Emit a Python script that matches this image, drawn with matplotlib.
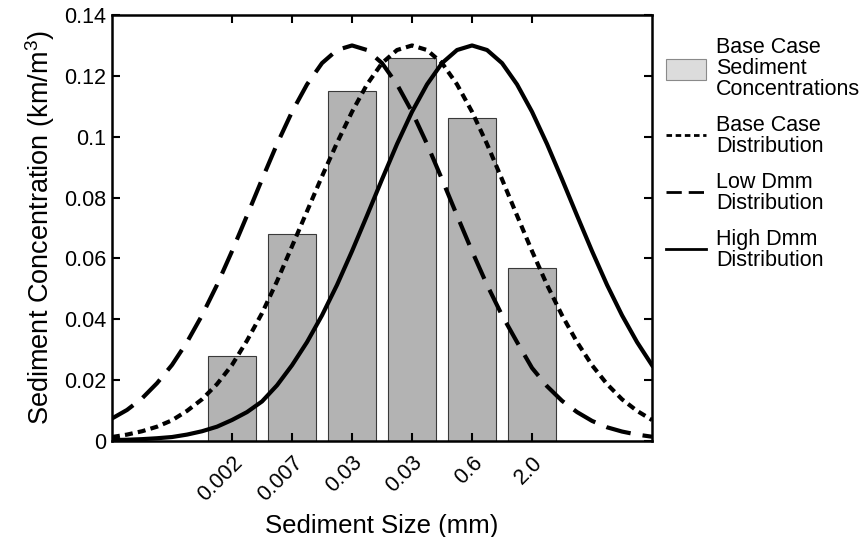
import matplotlib
matplotlib.use("Agg")
import matplotlib.pyplot as plt
from matplotlib.patches import Patch
from matplotlib.lines import Line2D
from matplotlib.ticker import FuncFormatter

plt.rcParams["font.family"] = ["Liberation Sans", "DejaVu Sans"]
plt.rcParams["mathtext.fontset"] = "custom"
plt.rcParams["mathtext.rm"] = "Liberation Sans"
plt.rcParams["mathtext.it"] = "Liberation Sans"

# bar data
size_labels = ["0.002", "0.007", "0.03", "0.03", "0.6", "2.0"]
concentrations = [0.028, 0.068, 0.115, 0.126, 0.106, 0.057]

# curves (x in bar-slot units)
curve_x = [-2.0, -1.75, -1.5, -1.25, -1.0, -0.75, -0.5, -0.25, 0.0, 0.25, 0.5, 0.75,
           1.0, 1.25, 1.5, 1.75, 2.0, 2.25, 2.5, 2.75, 3.0, 3.25, 3.5, 3.75,
           4.0, 4.25, 4.5, 4.75, 5.0, 5.25, 5.5, 5.75, 6.0, 6.25, 6.5, 6.75, 7.0]
base_dist = [0.0013, 0.0021, 0.0032, 0.0047, 0.0068, 0.0099, 0.0137, 0.0187, 0.0250,
             0.0330, 0.0420, 0.0525, 0.0640, 0.0755, 0.0870, 0.0980, 0.1082, 0.1172,
             0.1242, 0.1285, 0.1300, 0.1285, 0.1242, 0.1172, 0.1082, 0.0976, 0.0860,
             0.0741, 0.0624, 0.0513, 0.0413, 0.0325, 0.0249, 0.0187, 0.0137, 0.0099,
             0.0069]
low_dist = [0.0074, 0.0102, 0.0140, 0.0190, 0.0250, 0.0325, 0.0413, 0.0513, 0.0624,
            0.0741, 0.0860, 0.0976, 0.1082, 0.1172, 0.1242, 0.1285, 0.1300, 0.1285,
            0.1242, 0.1172, 0.1082, 0.0976, 0.0860, 0.0741, 0.0624, 0.0513, 0.0413,
            0.0325, 0.0240, 0.0180, 0.0132, 0.0095, 0.0066, 0.0045, 0.0031, 0.0021,
            0.0014]
high_dist = [0.0003, 0.0004, 0.0006, 0.0009, 0.0013, 0.0021, 0.0032, 0.0047, 0.0069,
             0.0095, 0.0130, 0.0183, 0.0249, 0.0325, 0.0413, 0.0513, 0.0624, 0.0741,
             0.0860, 0.0976, 0.1082, 0.1172, 0.1242, 0.1285, 0.1300, 0.1285, 0.1242,
             0.1172, 0.1082, 0.0976, 0.0860, 0.0741, 0.0624, 0.0513, 0.0413, 0.0325,
             0.0249]

fig = plt.figure(figsize=(8.65, 5.37), dpi=100)
ax = fig.add_axes([0.1295, 0.1788, 0.6243, 0.7932])

positions = range(len(size_labels))
ax.bar(positions, concentrations, 0.8, color="#b3b3b3", edgecolor="#3a3a3a",
       linewidth=0.8, zorder=1)

lw = 3.0
ax.plot(curve_x, base_dist, color="black", lw=lw, dashes=(1.9, 1.25), zorder=3)
ax.plot(curve_x, low_dist, color="black", lw=lw, dashes=(6, 2.9), zorder=3)
ax.plot(curve_x, high_dist, color="black", lw=lw, zorder=3)

ax.set_xlim(-2, 7)
ax.set_ylim(0, 0.14)
ax.set_xticks(list(positions))
ax.set_xticklabels(size_labels, rotation=45, ha="right", va="top",
                   rotation_mode="anchor", fontsize=15.5)
ax.set_yticks([0, 0.02, 0.04, 0.06, 0.08, 0.1, 0.12, 0.14])
ax.yaxis.set_major_formatter(FuncFormatter(lambda v, p: f"{v:g}"))
ax.tick_params(axis="y", labelsize=15.5, pad=4)
ax.tick_params(direction="in", length=6, width=1.5, top=True, right=True)
ax.tick_params(axis="x", pad=8)
for s in ax.spines.values():
    s.set_linewidth(1.8)

ax.set_xlabel("Sediment Size (mm)", fontsize=18.5, labelpad=6)
ax.set_ylabel(r"Sediment Concentration (km/m$^3$)", fontsize=19.5, labelpad=5)

handles = [
    Patch(facecolor="#dcdcdc", edgecolor="#8a8a8a", linewidth=0.8),
    Line2D([], [], color="black", lw=2, dashes=(2, 1.3)),
    Line2D([], [], color="black", lw=2, dashes=(5.5, 2.5)),
    Line2D([], [], color="black", lw=2),
]
labels = ["Base Case\nSediment\nConcentrations", "Base Case\nDistribution",
          "Low Dmm\nDistribution", "High Dmm\nDistribution"]
leg = ax.legend(handles, labels, loc="upper left", bbox_to_anchor=(1.025, 0.948),
                frameon=False, fontsize=15.5, borderaxespad=0, borderpad=0,
                handlelength=1.9, handleheight=1.15, handletextpad=0.45,
                labelspacing=0.7)
for t in leg.get_texts():
    t.set_linespacing(1.0)

plt.savefig("out.png", dpi=100)
